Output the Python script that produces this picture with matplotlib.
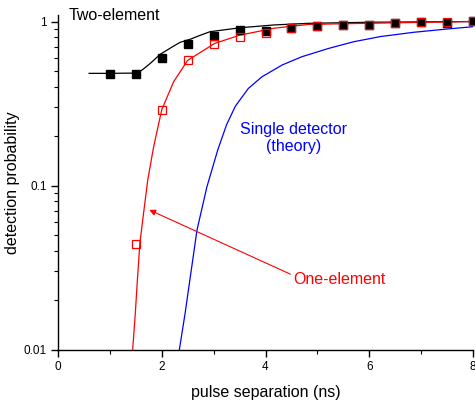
import matplotlib
matplotlib.use('Agg')
import matplotlib.pyplot as plt
from matplotlib.ticker import MultipleLocator, FixedLocator, FixedFormatter, LogLocator, NullFormatter

plt.rcParams['font.family'] = ['Liberation Sans', 'DejaVu Sans']

# measured points
sep = [1, 1.5, 2, 2.5, 3, 3.5, 4, 4.5, 5, 5.5, 6, 6.5, 7, 7.5, 8]
two_elem = [0.48, 0.48, 0.60, 0.73, 0.82, 0.89, 0.875, 0.915, 0.945, 0.95, 0.95, 0.985, 1.0, 0.985, 1.005]
sep_one = [1.5, 2, 2.5, 3, 3.5, 4, 4.5, 5, 5.5, 6, 6.5, 7, 7.5, 8]
one_elem = [0.044, 0.29, 0.58, 0.73, 0.80, 0.85, 0.91, 0.935, 0.95, 0.95, 0.985, 1.0, 0.99, 1.005]

# fitted curves
fit2_x = [0.6, 1.0, 1.52, 1.62, 1.78, 1.97, 2.16, 2.35, 2.55, 2.71, 2.93, 3.51, 4.16, 4.83, 6.0, 7.0, 8.0]
fit2_y = [0.483, 0.483, 0.485, 0.506, 0.556, 0.631, 0.687, 0.746, 0.78, 0.817, 0.867, 0.916, 0.953, 0.975, 0.99, 0.995, 1.0]
fit1_x = [1.44, 1.49, 1.53, 1.58, 1.65, 1.73, 1.84, 2.00, 2.23, 2.50, 3.02, 3.50, 4.16, 4.83, 5.9, 8.0]
fit1_y = [0.01, 0.0166, 0.0265, 0.045, 0.068, 0.108, 0.17, 0.29, 0.43, 0.58, 0.735, 0.825, 0.91, 0.96, 0.975, 1.0]
theo_x = [2.34, 2.45, 2.53, 2.68, 2.87, 3.08, 3.25, 3.42, 3.67, 3.93, 4.32, 4.70, 5.22, 5.70, 6.22, 6.86, 7.5, 8.0]
theo_y = [0.01, 0.0166, 0.025, 0.0536, 0.098, 0.165, 0.235, 0.305, 0.391, 0.46, 0.543, 0.61, 0.686, 0.753, 0.81, 0.86, 0.90, 0.93]

fig = plt.figure(figsize=(4.75, 4.04), dpi=100)
ax = fig.add_axes([58 / 475, 54.5 / 404, 415 / 475, 334.5 / 404])

ax.plot(fit2_x, fit2_y, color='black', lw=0.9)
ax.plot(fit1_x, fit1_y, color='red', lw=0.9)
ax.plot(theo_x, theo_y, color='blue', lw=0.9)
ax.plot(sep, two_elem, 's', color='black', ms=5.3, clip_on=False)
ax.plot(sep_one, one_elem, 's', mfc='none', mec='red', mew=0.9, ms=5.3, clip_on=False)

ax.set_yscale('log')
ax.set_xlim(0, 8)
ax.set_ylim(0.01, 1.096)

ax.xaxis.set_major_locator(MultipleLocator(2))
ax.xaxis.set_minor_locator(MultipleLocator(1))
ax.yaxis.set_major_locator(FixedLocator([0.01, 0.1, 1]))
ax.yaxis.set_major_formatter(FixedFormatter(['0.01', '0.1', '1']))
ax.yaxis.set_minor_locator(LogLocator(subs=range(2, 10)))
ax.yaxis.set_minor_formatter(NullFormatter())

for s in ['top', 'right']:
    ax.spines[s].set_visible(False)
for s in ['left', 'bottom']:
    ax.spines[s].set_linewidth(1.0)

ax.tick_params(which='major', direction='out', length=5, width=1.0, labelsize=8.5, pad=3)
ax.tick_params(which='minor', direction='out', length=3, width=0.8)

ax.set_xlabel('pulse separation (ns)', fontsize=11.5, labelpad=9)
ax.set_ylabel('detection probability', fontsize=11.5, labelpad=3)

ax.text(0.21, 1.096, 'Two-element', fontsize=11.5, ha='left', va='center')
ax.text(4.54, 0.195, 'Single detector\n(theory)', fontsize=11.5, color='blue',
        ha='center', va='center', linespacing=1.2)
ax.annotate('', xy=(1.76, 0.071), xytext=(4.48, 0.0288),
            arrowprops=dict(arrowstyle='-|>', color='red', lw=0.8, mutation_scale=9,
                            shrinkA=0, shrinkB=0))
ax.text(4.54, 0.0269, 'One-element', fontsize=11.5, color='red', ha='left', va='center')

fig.savefig('out.png', dpi=100)
